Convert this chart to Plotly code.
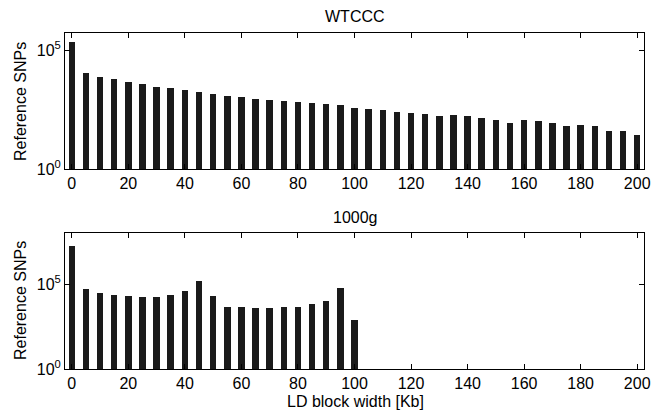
import plotly.graph_objects as go

block_width_kb = list(range(0, 205, 5))

wtccc_snps = [240000, 11700, 7900, 6200, 4800, 3800, 2950, 2500, 2100, 1700,
              1450, 1230, 1100, 910, 830, 710, 660, 600, 540, 500,
              390, 355, 310, 250, 240, 210, 178, 190, 174, 148,
              115, 91, 115, 102, 85, 66, 72, 68, 39, 39, 26]

g1000_snps = [17000000, 54000, 28000, 22400, 18600, 17800, 17800, 22400, 41000, 151000,
              18600, 4600, 4200, 4000, 4000, 4200, 4600, 6300, 10500, 55000,
              780] + [None] * 20

x_tick_vals = list(range(0, 201, 20))
y_tick_vals = [1, 1e5]
y_tick_text = ["10<sup>0</sup>", "10<sup>5</sup>"]

FONT = "Liberation Sans, Arial, Helvetica, sans-serif"
FS = 16
BAR_COLOR = "#1a1a1a"
W, H = 659, 413
ML, MR, MT, MB = 65, 15, 33, 44
PW, PH = W - ML - MR, H - MT - MB

fig = go.Figure()
fig.add_trace(go.Bar(x=block_width_kb, y=wtccc_snps, width=2.3,
                     marker=dict(color=BAR_COLOR, line=dict(width=0)),
                     xaxis="x", yaxis="y", showlegend=False))
fig.add_trace(go.Bar(x=block_width_kb, y=g1000_snps, width=2.3,
                     marker=dict(color=BAR_COLOR, line=dict(width=0)),
                     xaxis="x2", yaxis="y2", showlegend=False))

xcommon = dict(range=[-2.4, 202.4], tickvals=x_tick_vals, ticks="inside", ticklen=5,
               tickcolor="black", showline=True, linecolor="black", linewidth=1,
               mirror="ticks", showgrid=False, zeroline=False, automargin=False,
               tickfont=dict(size=FS, color="black", family=FONT))
ycommon = dict(type="log", tickvals=y_tick_vals, ticktext=y_tick_text, ticks="inside",
               ticklen=5, tickcolor="black", showline=True, linecolor="black",
               linewidth=1, mirror="ticks", showgrid=False, zeroline=False, automargin=False,
               tickfont=dict(size=FS, color="black", family=FONT))

tfont = dict(size=FS, color="black", family=FONT)


def ann(text, px, py, angle=0):
    return dict(text=text, x=(px - ML) / PW, y=(H - MB - py) / PH, xref="paper", yref="paper",
                showarrow=False, font=tfont, textangle=angle,
                xanchor="center", yanchor="middle")


def ydom(top_px, bottom_px):
    return [(H - MB - bottom_px) / PH, (H - MB - top_px) / PH]


fig.update_layout(
    width=W, height=H,
    margin=dict(l=ML, r=MR, t=MT, b=MB, pad=0),
    paper_bgcolor="white", plot_bgcolor="white",
    font=dict(family=FONT, color="black", size=FS),
    bargap=0,
    hovermode=False,
    xaxis=dict(domain=[0, 1], anchor="y", **xcommon),
    yaxis=dict(domain=ydom(33, 169), anchor="x", range=[0, 5.74], **ycommon),
    xaxis2=dict(domain=[0, 1], anchor="y2", **xcommon),
    yaxis2=dict(domain=ydom(233, 369), anchor="x2", range=[0, 8.0], **ycommon),
    annotations=[
        ann("WTCCC", 355, 17),
        ann("1000g", 355, 217),
        ann("Reference SNPs", 20, 102, -90),
        ann("Reference SNPs", 20, 301, -90),
        ann("LD block width [Kb]", 355, 401),
    ],
)

fig.write_html("out.html", config={"displayModeBar": False},
               post_script="document.body.style.margin='0';document.body.style.overflow='hidden';")
